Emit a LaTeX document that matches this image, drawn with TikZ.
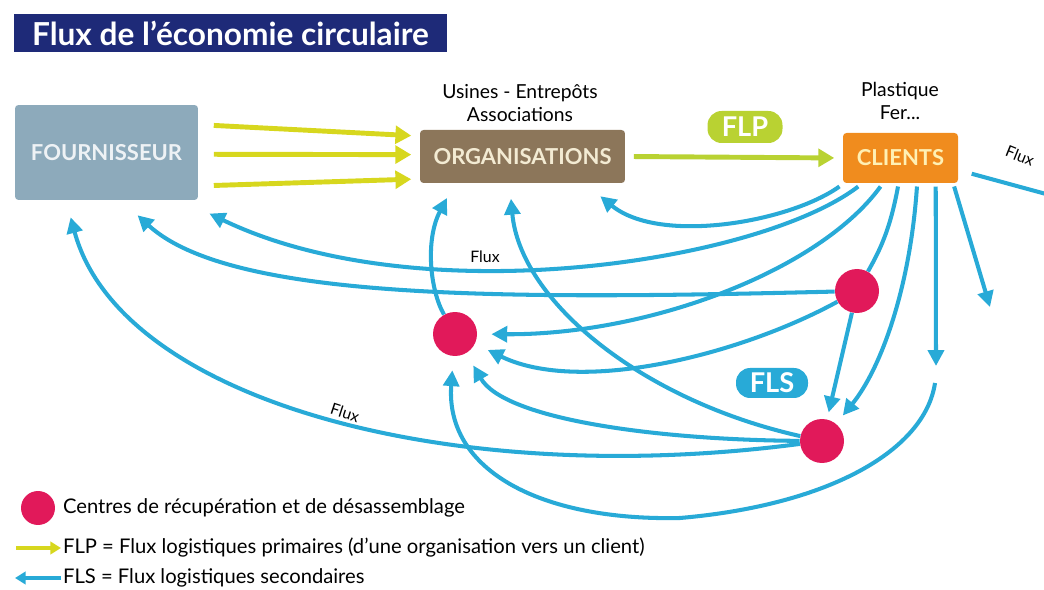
\documentclass[tikz,border=0pt]{standalone}
\usepackage{fontspec}
\setmainfont{Lato}
\usetikzlibrary{arrows.meta}
\definecolor{titlenavy}{HTML}{1E2A78}
\definecolor{fournblue}{HTML}{8DAABB}
\definecolor{fourntext}{HTML}{EEF2F5}
\definecolor{orgbrown}{HTML}{8C765A}
\definecolor{orgtext}{HTML}{F3EBD3}
\definecolor{clientorange}{HTML}{F08C1E}
\definecolor{clienttext}{HTML}{FFF0B4}
\definecolor{flplime}{HTML}{B9D232}
\definecolor{flpyellow}{HTML}{D7D71E}
\definecolor{flsblue}{HTML}{28AAD7}
\definecolor{centrepink}{HTML}{E1195A}

\begin{document}
\begin{tikzpicture}[x=0.02cm, y=-0.02cm,
    box/.style={rounded corners=2pt, font=\fontsize{12.5}{14}\selectfont\bfseries},
    centre/.style={circle, fill=centrepink, minimum size=0.88cm, inner sep=0pt},
    fls/.style={flsblue, line width=2.3pt, shorten >=4pt, -{Triangle[length=9pt,width=9pt]}},
    flp/.style={line width=2.8pt, shorten <=3pt, shorten >=3pt, -{Triangle[length=9pt,width=10pt]}},
    pill/.style={rounded corners=8pt, text=white, inner sep=0pt, font=\fontsize{15.5}{15.5}\selectfont\bfseries},
    note/.style={font=\fontsize{11}{13.6}\selectfont, align=center},
    small/.style={font=\fontsize{9}{10}\selectfont},
    legend/.style={font=\fontsize{11.5}{13}\selectfont, inner sep=1pt}]
    \useasboundingbox (0,0) rectangle (1044,590);
    \node[fill=titlenavy, text=white, minimum width=8.66cm, minimum height=0.76cm, font=\fontsize{18}{20}\selectfont\bfseries] (title) at (230.5,33) {Flux de l'économie circulaire};

    \node[box, fill=fournblue, text=fourntext, minimum width=3.66cm, minimum height=1.9cm, outer sep=6pt] (fourn) at (106.5,152.5) {FOURNISSEUR};
    \node[box, fill=orgbrown, text=orgtext, minimum width=4.1cm, minimum height=1.06cm, outer xsep=2pt, outer ysep=5pt] (org) at (522.5,156.5) {ORGANISATIONS};
    \node[box, fill=clientorange, text=clienttext, minimum width=2.3cm, minimum height=1cm, outer sep=2pt] (clients) at (900.5,158) {CLIENTS};
    \node[note] (orgnote) at (520,103) {Usines - Entrepôts\\Associations};
    \node[note] (clientnote) at (900,101) {Plastique\\Fer...};
    \node[pill, fill=flplime, minimum width=1.5cm, minimum height=0.64cm] (flp) at (745,127) {FLP};
    \node[pill, fill=flsblue, minimum width=1.44cm, minimum height=0.6cm] (fls) at (772,383) {FLS};

    \node[centre] (c1) at (455,334) {};
    \node[centre] (c2) at (857,291) {};
    \node[centre] (c3) at (822,441) {};
    \coordinate (drop) at (936,366);
    \coordinate (rebound) at (935,383);
    \coordinate (edge) at (990,307);
    \coordinate (away) at (1046,194);

    \draw[flp, flpyellow] (fourn.15.1) -- (org.169.6);
    \draw[flp, flpyellow] (fourn.-1.4) -- (org.179.2);
    \draw[flp, flpyellow] (fourn.-18.7) -- (org.-168.5);
    \draw[flp, flplime] (org.east) -- (clients.west);

    \draw[fls] (clients.-155.5) .. controls (790,222) and (660,245) .. (org.-26.9);
    \draw[fls] (clients.-146.8) .. controls (760,262) and (420,315) .. (fourn.-31.6);
    \draw[fls, shorten >=8pt] (clients.-125.7) .. controls (820,270) and (650,335) .. (c1);
    \draw[fls, -, shorten >=0pt] (clients.-95) .. controls (890,230) and (880,250) .. (c2);
    \draw[fls, shorten >=6pt] (clients.-60.1) .. controls (910,290) and (880,370) .. (c3);
    \draw[fls, shorten >=0pt] (clients.-39.6) -- (drop);
    \draw[fls, shorten >=0pt] (clients.-28.5) -- (edge);
    \draw[fls, -, shorten <=6pt, shorten >=0pt] (clients.-12.9) -- (away);
    \draw[fls] (c2) -- (c3);
    \draw[fls] (c2) .. controls (500,300) and (230,300) .. (fourn.-66.3);
    \draw[fls, shorten >=8pt] (c2) .. controls (740,355) and (580,395) .. (c1);
    \draw[fls] (c1) .. controls (430,290) and (425,240) .. (org.-154.4);
    \draw[fls] (c3) .. controls (640,400) and (520,300) .. (org.-109.5);
    \draw[fls, shorten >=8pt] (c3) .. controls (660,440) and (505,420) .. (c1);
    \draw[fls] (c3) .. controls (450,490) and (120,400) .. (fourn.-123.2);
    \draw[fls, shorten >=8pt] (rebound) .. controls (925,450) and (830,505) .. (680,518) .. controls (540,521) and (445,470) .. (c1);

    \node[small] (fluxtop) at (485,257) {Flux};
    \node[small, rotate=-18] (fluxlow) at (345,413) {Flux};
    \node[small, rotate=-22] (fluxright) at (1020,156) {Flux};

    \node[centre, minimum size=0.68cm] (legcentre) at (38,508) {};
    \node[legend, anchor=west] (legcentretext) at (61,508) {Centres de récupération et de désassemblage};
    \node[legend, anchor=west] (legflp) at (61,548) {FLP = Flux logistiques primaires (d'une organisation vers un client)};
    \node[legend, anchor=west] (legfls) at (61,578) {FLS = Flux logistiques secondaires};
    \coordinate (legflpstart) at (16,548);
    \coordinate (legflsend) at (15,578);
    \draw[flpyellow, line width=2.3pt, -{Triangle[length=6pt,width=7pt]}] (legflpstart) -- (legflp.west);
    \draw[flsblue, line width=2.3pt, -{Triangle[length=6pt,width=7pt]}] (legfls.west) -- (legflsend);
\end{tikzpicture}
\end{document}
